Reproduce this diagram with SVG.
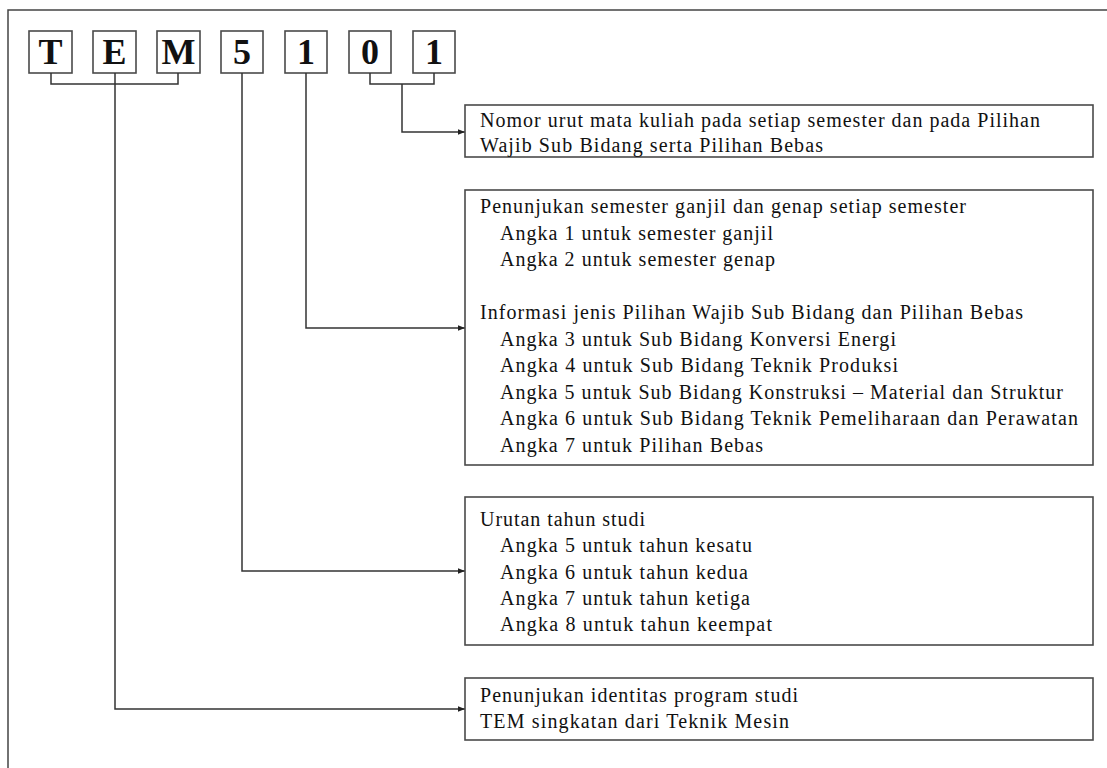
<svg xmlns="http://www.w3.org/2000/svg" width="1107" height="768" viewBox="0 0 1107 768">
<defs>
<marker id="arr" viewBox="0 0 10 10" refX="10" refY="5" markerWidth="7" markerHeight="7" markerUnits="userSpaceOnUse" orient="auto"><path d="M0,1 L10,5 L0,9 z" fill="#222"/></marker>
<style>
.frame{fill:none;stroke:#444;stroke-width:1.5}
.box{fill:#fff;stroke:#4a4a4a;stroke-width:1.6}
.ch{font-family:"Liberation Serif","Times New Roman",serif;font-weight:bold;font-size:36px;fill:#111;text-anchor:middle}
.t{font-family:"Liberation Serif","Times New Roman",serif;font-size:20px;fill:#111}
.ln{fill:none;stroke:#333;stroke-width:1.5}
</style>
</defs>
<rect width="1107" height="768" fill="#fff"/>
<rect class="frame" x="8" y="10" width="1112" height="780"/>
<g id="code">
<g id="cT"><rect class="box" x="29" y="31" width="43" height="42"/><text class="ch" x="50.5" y="64">T</text></g>
<g id="cE"><rect class="box" x="93" y="31" width="43" height="42"/><text class="ch" x="114.5" y="64">E</text></g>
<g id="cM"><rect class="box" x="157" y="31" width="43" height="42"/><text class="ch" x="178.5" y="64">M</text></g>
<g id="c5"><rect class="box" x="221" y="31" width="42" height="42"/><text class="ch" x="242" y="64">5</text></g>
<g id="c1a"><rect class="box" x="285" y="31" width="42" height="42"/><text class="ch" x="306" y="64">1</text></g>
<g id="c0"><rect class="box" x="349" y="31" width="42" height="42"/><text class="ch" x="370" y="64">0</text></g>
<g id="c1b"><rect class="box" x="413" y="31" width="42" height="42"/><text class="ch" x="434" y="64">1</text></g>
</g>
<g id="connectors">
<path class="ln" d="M51,73 V84 H178 V73"/>
<path class="ln" d="M370,73 V84 H434 V73"/>
<path class="ln" d="M402,84 V132 H465" marker-end="url(#arr)"/>
<path class="ln" d="M306,73 V328 H465" marker-end="url(#arr)"/>
<path class="ln" d="M242,73 V571 H465" marker-end="url(#arr)"/>
<path class="ln" d="M115,73 V709 H465" marker-end="url(#arr)"/>
</g>
<g id="box1">
<rect class="box" x="465" y="105" width="628" height="52"/>
<text class="t" x="480" y="127" textLength="560" lengthAdjust="spacing">Nomor urut mata kuliah pada setiap semester dan pada Pilihan</text>
<text class="t" x="480" y="152" textLength="343" lengthAdjust="spacing">Wajib Sub Bidang serta Pilihan Bebas</text>
</g>
<g id="box2">
<rect class="box" x="465" y="190" width="628" height="275"/>
<text class="t" x="480" y="213" textLength="486" lengthAdjust="spacing">Penunjukan semester ganjil dan genap setiap semester</text>
<text class="t" x="500" y="239.5" textLength="273" lengthAdjust="spacing">Angka 1 untuk semester ganjil</text>
<text class="t" x="500" y="266" textLength="275" lengthAdjust="spacing">Angka 2 untuk semester genap</text>
<text class="t" x="480" y="319" textLength="543" lengthAdjust="spacing">Informasi jenis Pilihan Wajib Sub Bidang dan Pilihan Bebas</text>
<text class="t" x="500" y="345.5" textLength="396" lengthAdjust="spacing">Angka 3 untuk Sub Bidang Konversi Energi</text>
<text class="t" x="500" y="372" textLength="398" lengthAdjust="spacing">Angka 4 untuk Sub Bidang Teknik Produksi</text>
<text class="t" x="500" y="398.5" textLength="563" lengthAdjust="spacing">Angka 5 untuk Sub Bidang Konstruksi – Material dan Struktur</text>
<text class="t" x="500" y="425" textLength="578" lengthAdjust="spacing">Angka 6 untuk Sub Bidang Teknik Pemeliharaan dan Perawatan</text>
<text class="t" x="500" y="451.5" textLength="263" lengthAdjust="spacing">Angka 7 untuk Pilihan Bebas</text>
</g>
<g id="box3">
<rect class="box" x="465" y="497" width="628" height="148"/>
<text class="t" x="480" y="526" textLength="165" lengthAdjust="spacing">Urutan tahun studi</text>
<text class="t" x="500" y="552" textLength="252" lengthAdjust="spacing">Angka 5 untuk tahun kesatu</text>
<text class="t" x="500" y="579" textLength="248" lengthAdjust="spacing">Angka 6 untuk tahun kedua</text>
<text class="t" x="500" y="605" textLength="250" lengthAdjust="spacing">Angka 7 untuk tahun ketiga</text>
<text class="t" x="500" y="631" textLength="272" lengthAdjust="spacing">Angka 8 untuk tahun keempat</text>
</g>
<g id="box4">
<rect class="box" x="465" y="678" width="628" height="62"/>
<text class="t" x="480" y="702" textLength="318" lengthAdjust="spacing">Penunjukan identitas program studi</text>
<text class="t" x="480" y="728" textLength="309" lengthAdjust="spacing">TEM singkatan dari Teknik Mesin</text>
</g>
</svg>
